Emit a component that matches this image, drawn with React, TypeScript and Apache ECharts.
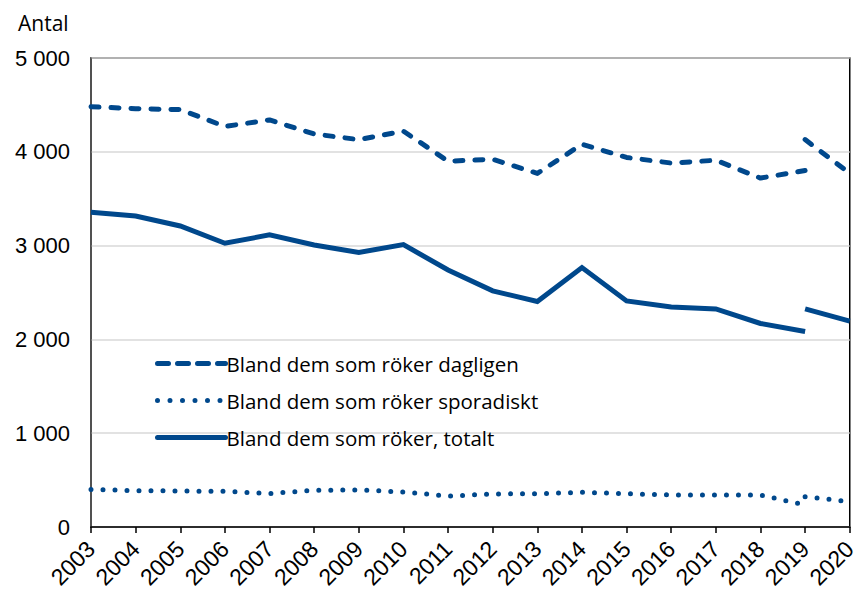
import React, { useEffect, useRef } from "react";
import * as echarts from "echarts";

const years = ["2003","2004","2005","2006","2007","2008","2009","2010","2011","2012","2013","2014","2015","2016","2017","2018","2019","2020"];
const dailyOld = [4480, 4460, 4450, 4270, 4340, 4190, 4130, 4220, 3900, 3920, 3770, 4080, 3940, 3880, 3910, 3720, 3800, null];
const dailyNew = [null, null, null, null, null, null, null, null, null, null, null, null, null, null, null, null, 4130, 3770];
const sporadicOld = [400, 388, 384, 380, 356, 392, 395, 373, 330, 352, 355, 370, 355, 341, 341, 341, 235, null];
const sporadicNew = [null, null, null, null, null, null, null, null, null, null, null, null, null, null, null, null, 323, 270];
const totalOld = [3355, 3316, 3209, 3025, 3114, 3007, 2926, 3010, 2740, 2518, 2404, 2766, 2410, 2345, 2325, 2170, 2085, null];
const totalNew = [null, null, null, null, null, null, null, null, null, null, null, null, null, null, null, null, 2325, 2195];

const names = ["Bland dem som röker dagligen", "Bland dem som röker sporadiskt", "Bland dem som röker, totalt"];
const BLUE = "#00488c";

export default function App() {
  const ref = useRef<HTMLDivElement>(null);
  useEffect(() => {
    if (!ref.current) return;
    const chart = echarts.init(ref.current, null, { renderer: "svg" });
    const dashed = { color: BLUE, width: 5, type: [8, 12] as any, cap: "round" as const, join: "round" as const };
    const dotted = { color: BLUE, width: 5, type: [0, 12] as any, cap: "round" as const, join: "round" as const };
    const solid = { color: BLUE, width: 5, type: "solid" as const, cap: "butt" as const, join: "miter" as const };
    const legendDashed = { color: BLUE, width: 5, type: [11, 9] as any, cap: "round" as const };
    const legendDotted = { color: BLUE, width: 5, type: [0, 12.5] as any, cap: "round" as const };
    const legendSolid = { color: BLUE, width: 5, type: "solid" as const, cap: "round" as const };
    const mk = (name: string, data: any[], ls: any) => ({
      name,
      type: "line",
      data,
      showSymbol: false,
      symbol: "none",
      connectNulls: false,
      lineStyle: ls,
      itemStyle: { color: BLUE },
      z: 3,
    });
    chart.setOption({
      animation: false,
      title: {
        text: "Antal",
        left: 13,
        top: 7,
        textStyle: { fontFamily: "Open Sans", fontSize: 21, fontWeight: "normal", color: "#000" },
      },
      grid: {
        left: 91,
        right: 3,
        top: 58,
        bottom: 67,
        show: true,
        borderColor: "#000",
        borderWidth: 1.5,
        containLabel: false,
      },
      legend: {
        data: [
          { name: names[0], itemStyle: { opacity: 0 }, lineStyle: legendDashed },
          { name: names[1], itemStyle: { opacity: 0 }, lineStyle: legendDotted },
          { name: names[2], itemStyle: { opacity: 0 }, lineStyle: legendSolid },
        ],
        orient: "vertical",
        left: 150,
        top: 348,
        itemWidth: 68,
        itemHeight: 14,
        itemGap: 16,
        textStyle: { fontFamily: "Open Sans", fontSize: 20.5, color: "#000", padding: [0, 0, 0, -4] },
      },
      xAxis: {
        type: "category",
        data: years,
        boundaryGap: false,
        axisLine: { lineStyle: { color: "#000", width: 1.5 } },
        axisTick: { show: true, interval: 0, length: 6, lineStyle: { color: "#000", width: 1.5 } },
        axisLabel: {
          interval: 0,
          rotate: 45,
          margin: 18,
          fontFamily: "Liberation Sans",
          fontSize: 23,
          color: "#000",
        },
      },
      yAxis: {
        type: "value",
        min: 0,
        max: 5000,
        interval: 1000,
        axisLine: { show: true, lineStyle: { color: "#595959", width: 1.5 } },
        axisTick: { show: false },
        splitLine: { lineStyle: { color: "#d9d9d9", width: 1.5 } },
        axisLabel: {
          margin: 21,
          fontFamily: "Liberation Sans",
          fontSize: 22,
          color: "#000",
          formatter: (v: number) => String(v).replace(/\B(?=(\d{3})+(?!\d))/g, " "),
        },
      },
      series: [
        mk(names[0], dailyOld, dashed),
        mk(names[0], dailyNew, dashed),
        mk(names[1], sporadicOld, dotted),
        mk(names[1], sporadicNew, dotted),
        mk(names[2], totalOld, solid),
        mk(names[2], totalNew, solid),
      ],
    });
    return () => chart.dispose();
  }, []);
  return <div ref={ref} style={{ position: "absolute", left: 0, top: 0, width: 860, height: 594 }} />;
}
